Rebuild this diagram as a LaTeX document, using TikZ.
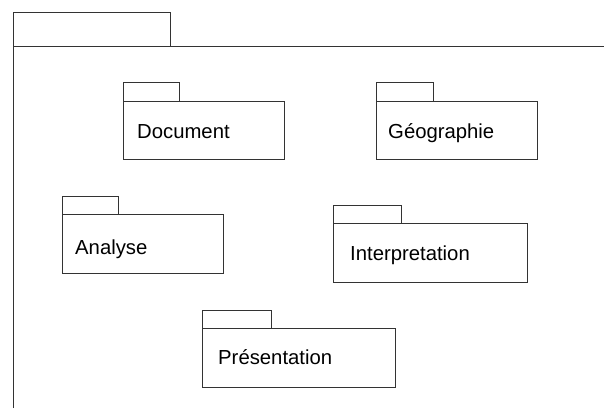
\documentclass[tikz,border=0pt]{standalone}
\usepackage{fontspec}
\setmainfont{Liberation Sans}
\begin{document}
\begin{tikzpicture}[x=1pt,y=-1pt,
  pline/.style={draw=black!80,line width=1pt},
  lbl/.style={anchor=base west,inner sep=0pt,font=\fontsize{20.3}{23}\selectfont}]
\useasboundingbox (0,0) rectangle (604,408);
% outer package
\draw[pline] (13,12) rectangle (170,46);
\draw[pline] (13,408) -- (13,46) -- (604,46);
% Document
\draw[pline] (123,82) rectangle (179,101);
\draw[pline] (123,101) rectangle (284,159);
\node[lbl] (doc) at (137,138) {Document};
% Geographie
\draw[pline] (376,82) rectangle (433,101);
\draw[pline] (376,101) rectangle (537,159);
\node[lbl] (geo) at (388,138) {Géographie};
% Analyse
\draw[pline] (62,196) rectangle (118,214);
\draw[pline] (62,214) rectangle (223,273);
\node[lbl] (ana) at (75,254) {Analyse};
% Interpretation
\draw[pline] (333,205) rectangle (401,223);
\draw[pline] (333,223) rectangle (527,282);
\node[lbl] (int) at (350,260) {Interpretation};
% Presentation
\draw[pline] (202,310) rectangle (271,328);
\draw[pline] (202,328) rectangle (395,387);
\node[lbl] (pre) at (218,364) {Présentation};
\end{tikzpicture}
\end{document}
